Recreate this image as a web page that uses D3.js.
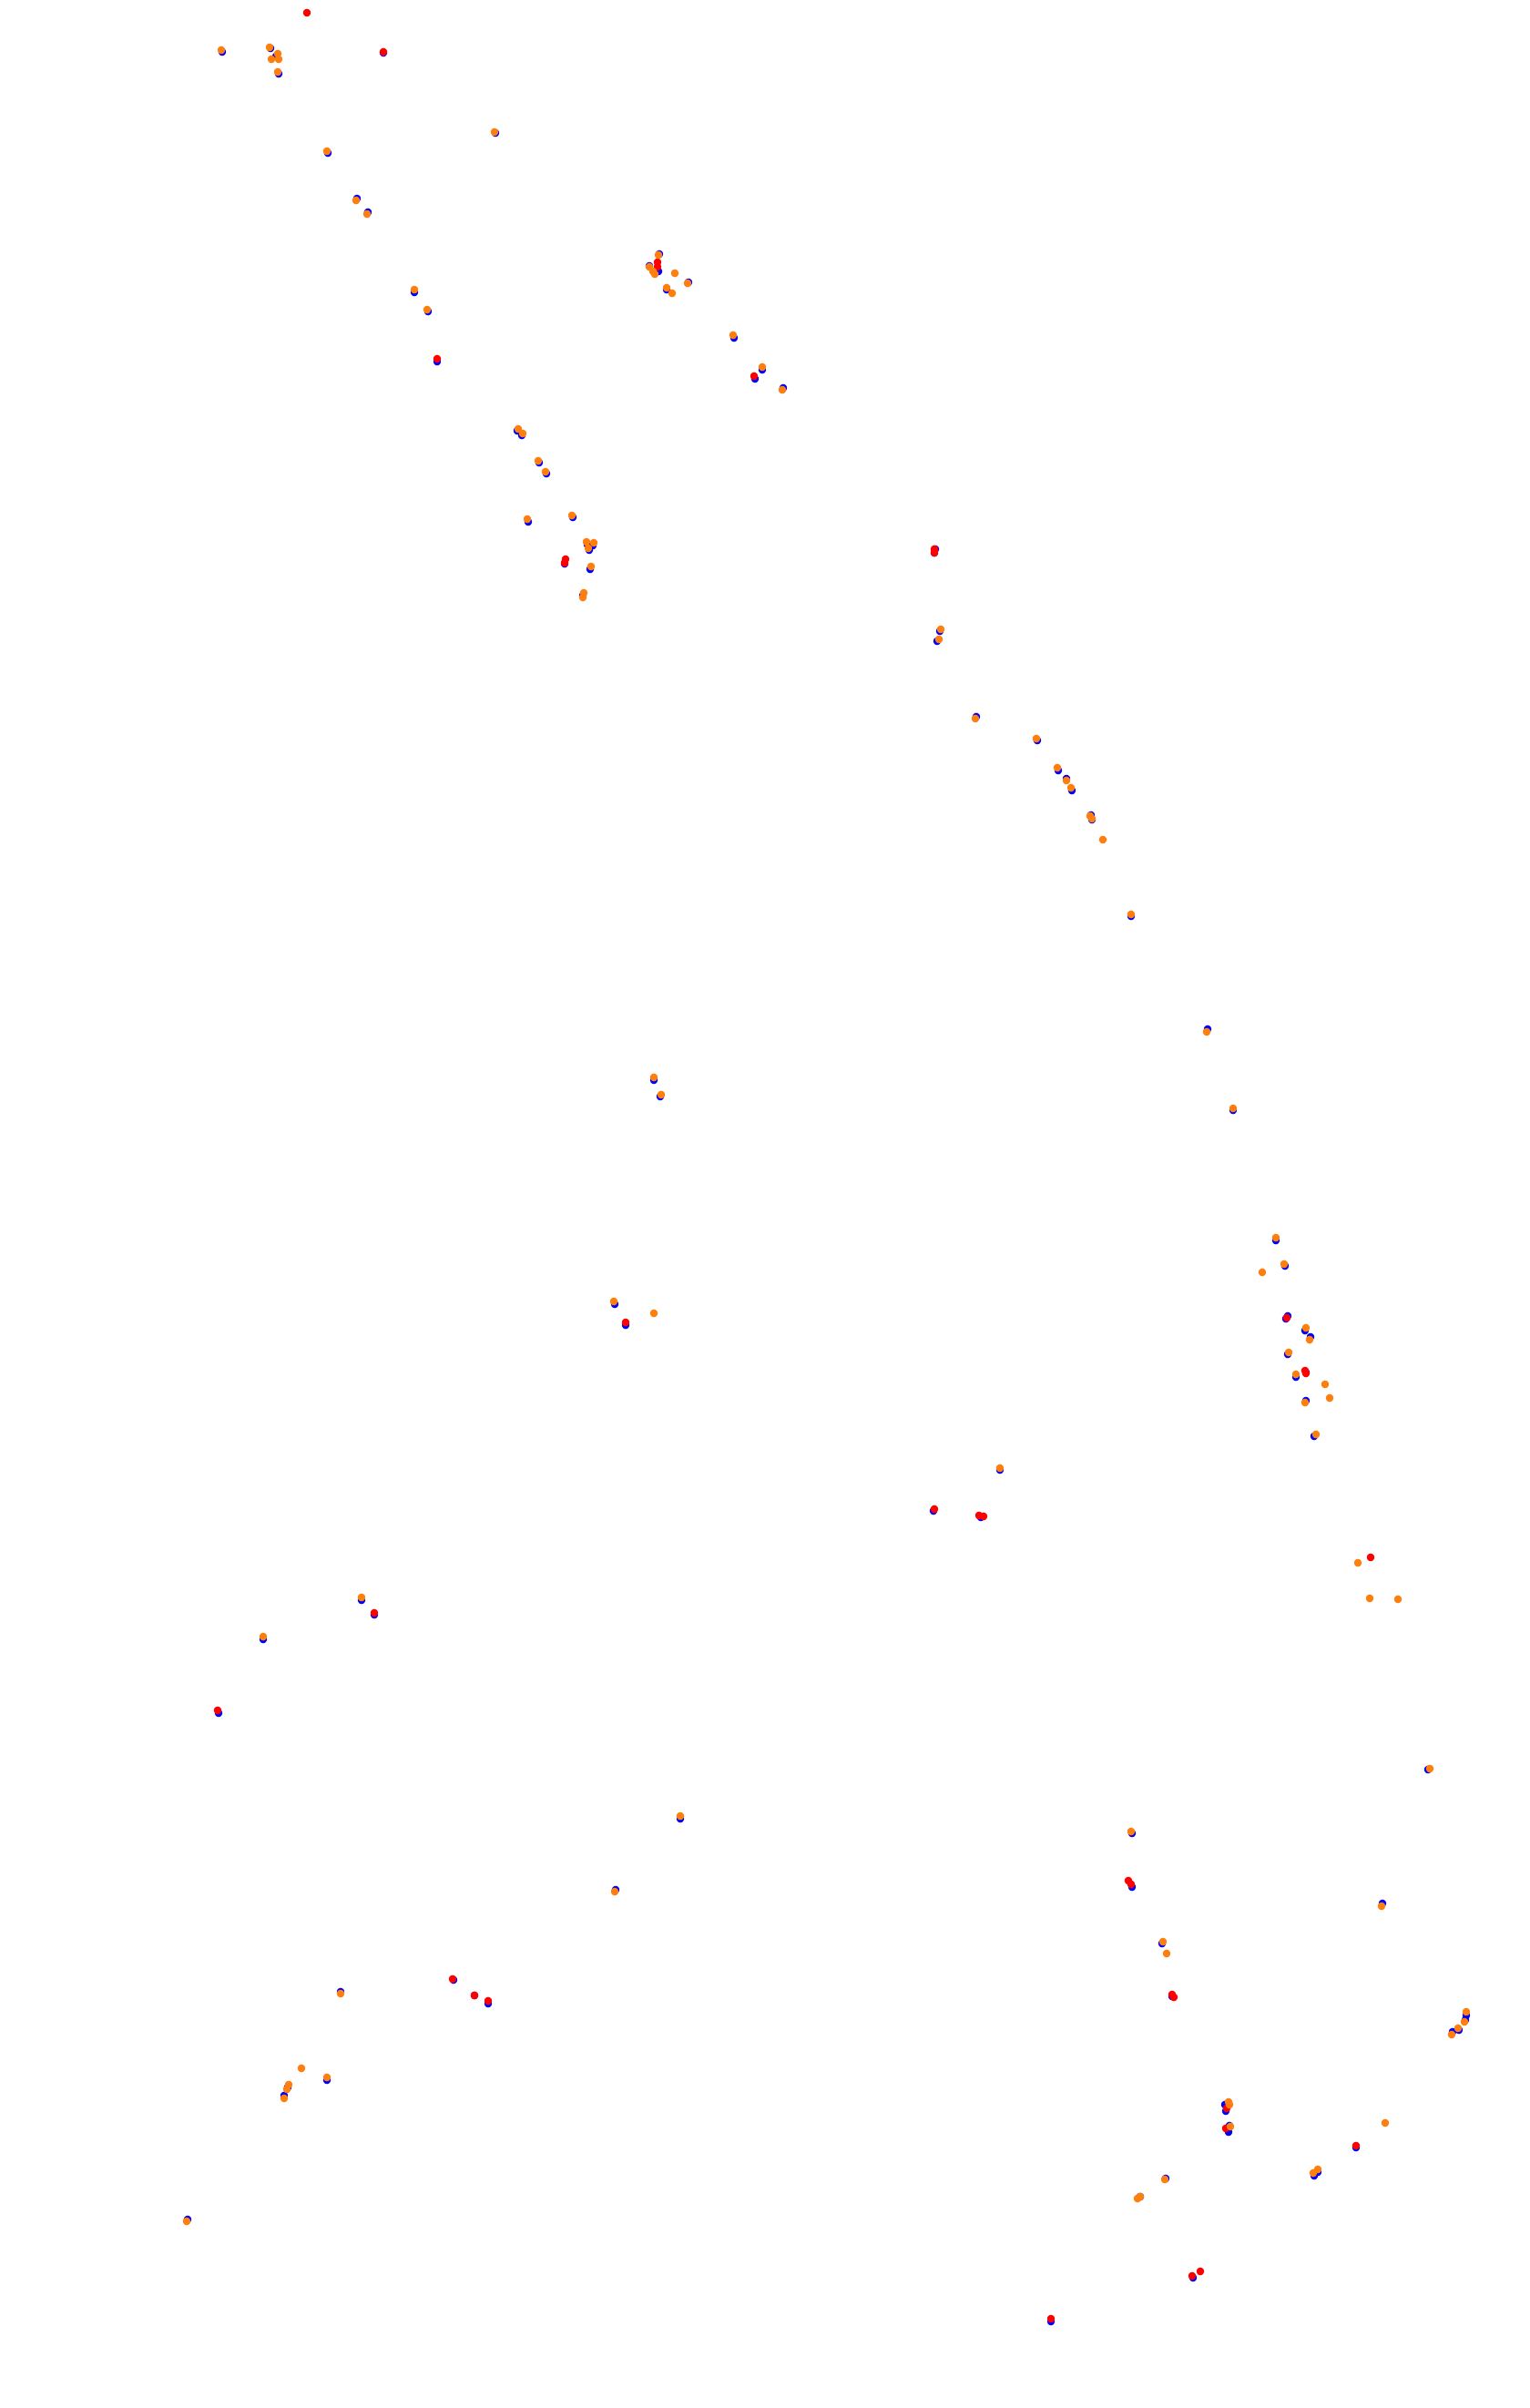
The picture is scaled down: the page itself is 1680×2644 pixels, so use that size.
<!DOCTYPE html>
<html>
<head>
<meta charset="utf-8">
<script src="https://cdn.jsdelivr.net/npm/d3@7"></script>
<style>
html,body{margin:0;padding:0;background:#fff;}
svg{display:block;}
</style>
</head>
<body>
<script>
// Data in plot units (x: 0–168, y: 0–264.4, y grows downward)
const seriesNames = ["blue", "red", "orange"];
const seriesColors = ["#0000ff", "#ff0000", "#ff7f0e"];

const bluePoints = [
[24.4,5.7],[29.7,5.3],[30.3,6.2],[30.6,8.1],[42.1,5.8],[54.4,14.6],[36.0,16.8],[39.2,21.8],[40.4,23.3],
[45.5,32.1],[47.0,34.2],[48.0,39.7],
[72.4,27.9],[71.3,29.2],[72.3,29.8],[75.6,31.0],[73.2,31.8],[80.6,37.1],[83.7,40.6],[82.9,41.6],[86.0,42.6],
[56.8,47.3],[57.3,47.8],[59.2,50.8],[60.0,52.0],[58.0,57.3],[62.9,56.8],[64.5,59.8],[65.1,59.9],[64.7,60.4],[62.0,61.9],[64.8,62.5],[64.0,65.4],
[102.7,60.3],[102.6,60.7],[103.2,69.3],[102.9,70.4],[107.2,78.7],[113.9,81.3],[116.2,84.6],[117.1,85.5],[117.7,86.8],[119.8,89.5],[119.9,90.0],[124.2,100.6],
[132.6,113.0],[135.4,121.9],[140.1,136.2],[141.1,139.0],[141.2,144.8],[141.4,144.5],[143.3,146.1],[143.9,146.8],[141.4,148.7],[143.4,150.7],[142.3,151.2],[143.4,153.8],[144.3,157.7],
[71.8,118.6],[72.5,120.4],[67.5,143.2],[68.7,145.5],[109.8,161.4],[102.5,165.9],[107.7,166.6],
[156.8,194.3],[151.8,209.0],
[39.7,175.7],[41.1,177.3],[28.9,180.0],[24.0,188.1],[74.7,199.7],[67.6,207.5],
[49.8,217.4],[37.4,218.7],[52.1,219.1],[53.6,220.0],[35.9,228.4],[31.6,229.2],[31.2,230.1],[20.6,243.7],
[124.3,201.3],[124.3,207.2],[127.6,213.4],[128.7,219.2],[161.0,221.3],[160.9,221.8],[160.2,222.9],[159.5,223.1],
[134.6,231.8],[134.5,231.1],[135.0,233.4],[134.9,234.1],[148.9,235.8],[144.7,238.5],[144.3,238.9],[128.0,239.2],[125.2,241.2],[131.0,250.1],[115.4,254.9]
];

const redPoints = [
[33.7,1.4],[42.1,5.7],[48.0,39.4],[72.2,28.8],[72.2,29.3],[82.8,41.3],[62.1,61.4],[62.0,61.8],
[102.6,60.3],[102.6,60.7],[141.3,144.7],[143.3,150.5],[143.4,150.8],[150.5,171.0],
[68.7,145.2],[102.6,165.7],[107.5,166.4],[108.0,166.5],
[41.1,177.1],[23.9,187.8],[49.7,217.3],[52.1,219.1],[53.6,219.7],
[123.9,206.5],[124.2,206.9],[128.7,219.0],[128.9,219.3],
[134.7,231.5],[134.6,233.7],[148.9,235.6],[131.8,249.4],[130.9,249.9],[115.4,254.6]
];

const orangePoints = [
[24.3,5.5],[29.6,5.2],[30.5,5.9],[29.8,6.5],[30.6,6.5],[30.5,7.9],[54.3,14.5],[35.9,16.6],[39.1,22.0],[40.3,23.5],[45.5,31.8],[46.9,34.0],
[72.3,28.0],[71.3,29.3],[71.7,29.8],[71.9,30.1],[74.1,30.0],[75.5,31.1],[73.2,31.6],[73.8,32.2],[80.5,36.8],[83.7,40.3],[85.9,42.8],
[56.9,47.1],[57.4,47.6],[59.1,50.6],[59.9,51.8],[57.9,57.0],[62.8,56.6],[64.4,59.5],[65.2,59.6],[64.6,60.2],[64.9,62.2],[64.1,65.1],[64.0,65.6],
[103.3,69.1],[103.1,70.2],[107.1,78.9],[113.8,81.1],[116.1,84.3],[117.1,85.7],[117.6,86.5],[119.7,89.6],[119.9,89.9],[121.1,92.2],[124.2,100.4],
[132.5,113.3],[135.4,121.7],[140.1,135.9],[141.0,138.8],[138.6,139.7],[143.4,145.8],[143.8,147.1],[141.5,148.5],[142.3,150.9],[145.5,152.0],[146.0,153.5],[143.3,154.0],[144.5,157.5],
[71.8,118.3],[72.6,120.2],[67.4,142.9],[71.8,144.2],[109.8,161.2],
[149.1,171.6],[150.4,175.5],[153.5,175.6],[157.0,194.2],[151.7,209.3],
[39.7,175.4],[28.9,179.7],[74.7,199.4],[67.5,207.7],
[37.4,218.9],[33.1,227.1],[35.9,228.1],[31.7,228.9],[31.5,229.4],[31.2,230.4],[20.5,243.9],
[124.2,201.1],[127.7,213.2],[128.1,214.5],[161.0,220.9],[160.8,222.0],[160.1,222.7],[159.4,223.4],
[134.9,230.8],[135.0,231.1],[135.1,233.5],[152.1,233.1],[144.7,238.2],[144.2,238.6],[127.9,239.3],[124.9,241.4],[125.2,241.2]
];

const width = 1680, height = 2644;
const x = d3.scaleLinear().domain([0, 168]).range([0, width]);
const y = d3.scaleLinear().domain([0, 264.4]).range([0, height]);
const color = d3.scaleOrdinal().domain(seriesNames).range(seriesColors);

const svg = d3.select("body").append("svg")
  .attr("width", width).attr("height", height)
  .style("background", "#fff");

const allSeries = [
  {name: "blue", points: bluePoints},
  {name: "red", points: redPoints},
  {name: "orange", points: orangePoints}
];

svg.selectAll("g.series")
  .data(allSeries)
  .join("g")
  .attr("class", "series")
  .attr("fill", d => color(d.name))
  .selectAll("circle")
  .data(d => d.points)
  .join("circle")
  .attr("cx", d => x(d[0]))
  .attr("cy", d => y(d[1]))
  .attr("r", 4.2);
</script>
</body>
</html>
